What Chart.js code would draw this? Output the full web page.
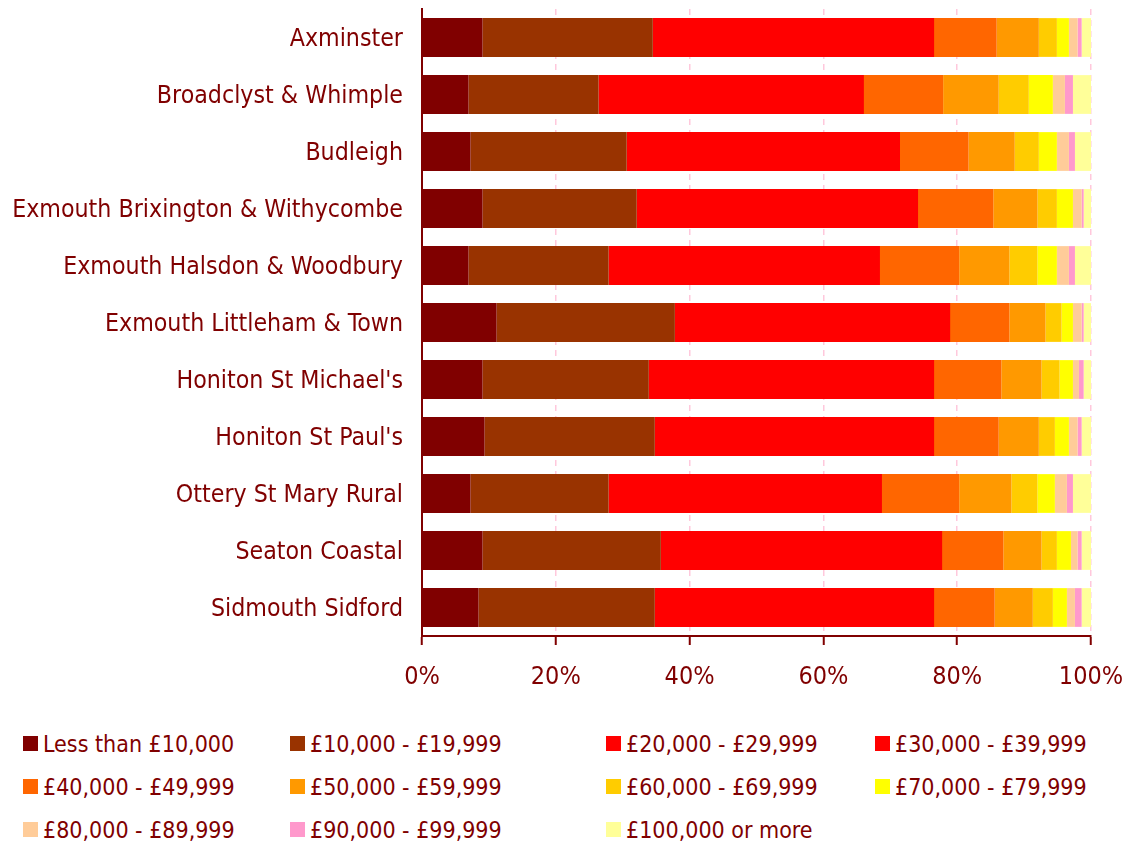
<!DOCTYPE html>
<html>
<head>
<meta charset="utf-8">
<script src="https://cdn.jsdelivr.net/npm/chart.js@4"></script>
<style>
  body { margin: 0; background: #fff; }
  #wrap { position: absolute; left: 0; top: 0; width: 1134px; height: 700px; }
  #legend {
    position: absolute; left: 23px; top: 722px;
    display: grid;
    grid-template-columns: 267px 316px 269px 240px;
    grid-auto-rows: 43px;
    font-family: "DejaVu Sans Condensed", "DejaVu Sans", sans-serif;
    font-size: 23px; color: #800000;
  }
  .item { display: flex; align-items: center; white-space: nowrap; }
  .box { width: 15px; height: 15px; margin-right: 5px; flex: none; }
</style>
</head>
<body>
<div id="wrap"><canvas id="myChart" width="1134" height="700"></canvas></div>
<div id="legend"></div>
<script>
const wards = [
  "Axminster",
  "Broadclyst & Whimple",
  "Budleigh",
  "Exmouth Brixington & Withycombe",
  "Exmouth Halsdon & Woodbury",
  "Exmouth Littleham & Town",
  "Honiton St Michael's",
  "Honiton St Paul's",
  "Ottery St Mary Rural",
  "Seaton Coastal",
  "Sidmouth Sidford",
];

const bands = [
  "Less than £10,000",
  "£10,000 - £19,999",
  "£20,000 - £29,999",
  "£30,000 - £39,999",
  "£40,000 - £49,999",
  "£50,000 - £59,999",
  "£60,000 - £69,999",
  "£70,000 - £79,999",
  "£80,000 - £89,999",
  "£90,000 - £99,999",
  "£100,000 or more",
];

const colours = [
  "#800000", "#993300", "#FF0000", "#FF0000", "#FF6600", "#FF9900",
  "#FFCC00", "#FFFF00", "#FFCC99", "#FF99CC", "#FFFF99",
];

// share of households (%) per band, one value per ward
const under10k  = [9.05, 6.95, 7.25, 9.05, 6.95, 11.15, 9.05, 9.35, 7.25, 9.05, 8.45];
const k10to19   = [25.45, 19.45, 23.35, 23.05, 20.95, 26.65, 24.85, 25.45, 20.65, 26.65, 26.35];
const k20to29   = [22.4, 19.8, 20.9, 22.2, 20.5, 22.9, 22.6, 22.3, 20.6, 22.5, 22.0];
const k30to39   = [19.5, 19.7, 19.8, 19.7, 19.9, 18.1, 19.9, 19.3, 20.1, 19.4, 19.6];
const k40to49   = [9.5, 12.0, 10.4, 11.4, 12.0, 9.0, 10.2, 9.8, 11.7, 9.3, 9.2];
const k50to59   = [6.3, 8.3, 6.9, 6.6, 7.5, 5.4, 6.0, 6.0, 7.8, 5.7, 5.7];
const k60to69   = [2.7, 4.5, 3.6, 2.9, 4.2, 2.4, 2.7, 2.4, 3.9, 2.3, 3.0];
const k70to79   = [1.8, 3.6, 2.7, 2.4, 2.9, 1.7, 2.0, 2.1, 2.6, 2.1, 2.1];
const k80to89   = [1.3, 1.8, 1.8, 1.3, 1.8, 1.3, 0.9, 1.3, 1.8, 1.0, 1.2];
const k90to99   = [0.6, 1.2, 0.9, 0.3, 0.9, 0.3, 0.7, 0.6, 0.9, 0.6, 1.0];
const over100k  = [1.4, 2.7, 2.4, 1.1, 2.4, 1.1, 1.1, 1.4, 2.7, 1.4, 1.4];

const xTicks = [0, 20, 40, 60, 80, 100];

const series = [
  under10k, k10to19, k20to29, k30to39, k40to49, k50to59,
  k60to69, k70to79, k80to89, k90to99, over100k,
];

const textColour = "#800000";
const fontFamily = '"DejaVu Sans Condensed", "DejaVu Sans", sans-serif';

const chart = new Chart("myChart", {
  type: "bar",
  data: {
    labels: wards,
    datasets: series.map((values, i) => ({
      label: bands[i],
      data: values,
      backgroundColor: colours[i],
      borderWidth: 0,
      // the two red bands share a colour; overlap them by a pixel so no seam shows
      inflateAmount: i === 3 ? 1 : "auto",
      barPercentage: i === 3 ? 0.645 : 0.68,
      categoryPercentage: 1,
    })),
  },
  options: {
    indexAxis: "y",
    responsive: false,
    animation: false,
    layout: { padding: { top: 9, right: 43, left: 0, bottom: 0 } },
    plugins: {
      legend: { display: false },
      tooltip: { enabled: false },
    },
    scales: {
      x: {
        stacked: true,
        min: 0,
        max: 100,
        afterBuildTicks: (scale) => {
          scale.ticks = xTicks.map((v) => ({ value: v }));
        },
        afterFit: (scale) => {
          scale.height = 64;
        },
        grid: {
          color: (ctx) => (ctx.tick && ctx.tick.value === 0 ? "rgba(0,0,0,0)" : "#FFC8DC"),
          lineWidth: 1.5,
          tickColor: textColour,
          tickLength: 9,
          tickWidth: 2,
        },
        border: { display: true, color: textColour, width: 2, dash: [6, 5] },
        ticks: {
          color: textColour,
          padding: 2,
          maxRotation: 0,
          font: { family: fontFamily, size: 25, lineHeight: "60px" },
          callback: (value) => value + "%",
        },
      },
      y: {
        stacked: true,
        afterFit: (scale) => {
          scale.width = 422;
        },
        // tick marks are not drawn, tickLength only sets the gap before the labels
        grid: { display: false, drawTicks: true, tickLength: 19 },
        border: { display: true, color: textColour, width: 2 },
        ticks: {
          color: textColour,
          padding: 0,
          labelOffset: 2,
          autoSkip: false,
          font: { family: fontFamily, size: 24.7, lineHeight: 0.1 },
        },
      },
    },
  },
});

// legend laid out as a grid, the way the original shows it
const legend = document.getElementById("legend");
chart.data.datasets.forEach((ds) => {
  const item = document.createElement("div");
  item.className = "item";
  item.innerHTML = `<span class="box" style="background:${ds.backgroundColor}"></span><span>${ds.label}</span>`;
  legend.appendChild(item);
});
</script>
</body>
</html>
